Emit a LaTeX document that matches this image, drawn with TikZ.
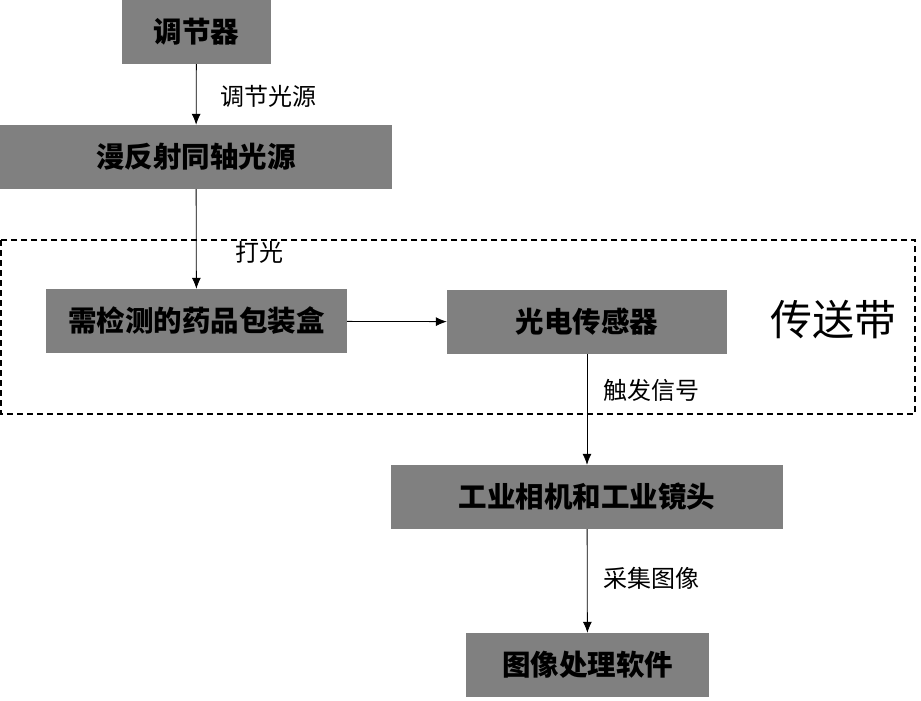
\documentclass[tikz,border=0pt]{standalone}
\usepackage{fontspec}
\setmainfont{Noto Sans CJK SC}
\usetikzlibrary{arrows.meta,positioning}
\definecolor{BoxGray}{HTML}{808080}

\begin{document}
\begin{tikzpicture}[x=1pt,y=-1pt,
  box/.style={fill=BoxGray,inner sep=0pt,align=center,font=\fontsize{28.5}{32}\selectfont\bfseries},
  lbl/.style={font=\fontsize{24}{27}\selectfont,anchor=west,inner sep=0pt},
  arr/.style={-{Latex[length=11pt,width=9pt]},line width=0.8pt,black}
]
\useasboundingbox (0,0) rectangle (921,701);
% conveyor belt region
\draw[dashed,line width=1.6pt,dash pattern=on 6pt off 4pt] (1,240) rectangle (915,414);
\node[font=\fontsize{42}{46}\selectfont,inner sep=0pt] (belt) at (833,320) {传送带};

\node[box,minimum width=149pt,minimum height=64pt] (reg) at (196.5,32) {调节器};
\node[box,minimum width=392pt,minimum height=64pt] (src) at (196,157) {漫反射同轴光源};
\node[box,minimum width=301pt,minimum height=64pt] (pkg) at (196.5,321) {需检测的药品包装盒};
\node[box,minimum width=280pt,minimum height=64pt] (sen) at (587,322) {光电传感器};
\node[box,minimum width=392pt,minimum height=64pt] (cam) at (587,497) {工业相机和工业镜头};
\node[box,minimum width=243pt,minimum height=64pt] (sw) at (587.5,665) {图像处理软件};

\draw[arr] (reg) -- (src);
\draw[arr] (src) -- (pkg);
\draw[arr] (pkg) -- (sen);
\draw[arr] (sen) -- (cam);
\draw[arr] (cam) -- (sw);

\node[lbl] (l1) at (220,96) {调节光源};
\node[lbl] (l2) at (235,252) {打光};
\node[lbl] (l3) at (603,390) {触发信号};
\node[lbl] (l4) at (603,578) {采集图像};
\end{tikzpicture}
\end{document}
